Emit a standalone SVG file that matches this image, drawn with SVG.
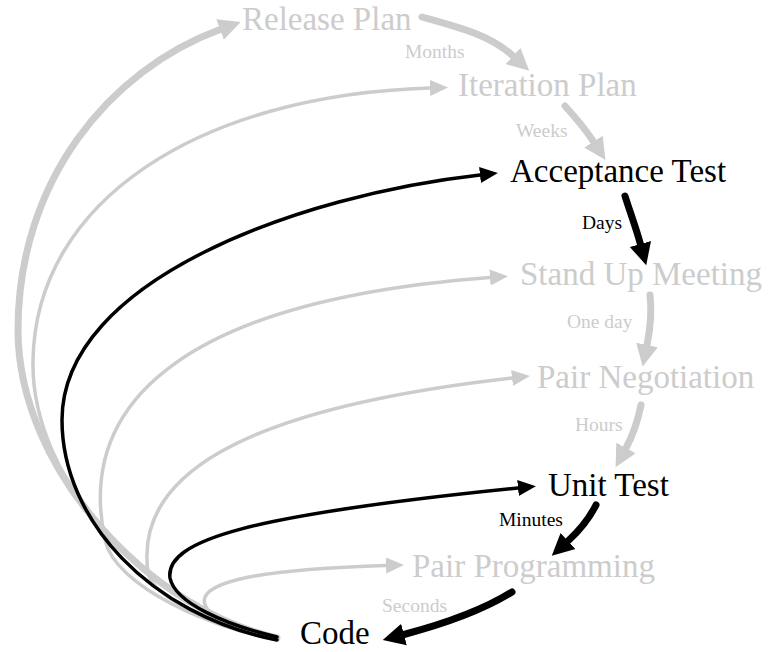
<svg xmlns="http://www.w3.org/2000/svg" width="769" height="652" viewBox="0 0 769 652">
  <style>
    .node { font-family: "Liberation Serif", "Times New Roman", serif; font-size: 33px; }
    .lbl { font-family: "Liberation Serif", "Times New Roman", serif; font-size: 19.5px; }
    .dim { fill: #cccccc; }
    .hot { fill: #000000; }
    .edge { fill: none; stroke-linecap: round; }
    .g { stroke: #cccccc; }
    .k { stroke: #000000; }
    .thin { stroke-width: 3.5; }
    .thick { stroke-width: 7; }
  </style>
  <defs>
    <marker id="headGreyL" viewBox="0 -12 24 24" markerWidth="24" markerHeight="24" refX="0" refY="0" orient="auto" markerUnits="userSpaceOnUse">
      <path d="M0,-11 L22,0 L0,11 Z" fill="#cccccc"/>
    </marker>
    <marker id="headBlackL" viewBox="0 -12 24 24" markerWidth="24" markerHeight="24" refX="0" refY="0" orient="auto" markerUnits="userSpaceOnUse">
      <path d="M0,-11 L22,0 L0,11 Z" fill="#000000"/>
    </marker>
    <marker id="headGreyS" viewBox="0 -10 20 20" markerWidth="20" markerHeight="20" refX="0" refY="0" orient="auto" markerUnits="userSpaceOnUse">
      <path d="M0,-8 L18,0 L0,8 Z" fill="#cccccc"/>
    </marker>
    <marker id="headBlackS" viewBox="0 -10 20 20" markerWidth="20" markerHeight="20" refX="0" refY="0" orient="auto" markerUnits="userSpaceOnUse">
      <path d="M0,-8 L18,0 L0,8 Z" fill="#000000"/>
    </marker>
  </defs>

  <g id="connectors">
    <!-- feedback loops from Code, dim ones first -->
    <path class="edge g thin" marker-end="url(#headGreyS)" d="M277,639 C150,610 30,480 33,360 C36,200 200,95 430,88"/>
    <path class="edge g thin" marker-end="url(#headGreyS)" d="M277,639 C215,630 115,587 105,540 C75,399 190,300 490,277.5"/>
    <path class="edge g thin" marker-end="url(#headGreyS)" d="M277,639 C225,628 152,600 148,572 C135,480 230,410 512,378"/>
    <path class="edge g thin" marker-end="url(#headGreyS)" d="M277,639 C245,632 212,622 205,605 C198,585 240,570 386,565.5"/>
    <path class="edge g thick" marker-end="url(#headGreyL)" d="M277,638 C150,610 18,470 18,330 C18,180 110,70 220,29.5"/>

    <!-- step-down chain -->
    <path class="edge g thick" marker-end="url(#headGreyL)" d="M422,17 C458,27 490,35 513,56"/>
    <path class="edge g thick" marker-end="url(#headGreyL)" d="M565,106 C575,117 586,130 593.5,141.6"/>
    <path class="edge g thick" marker-end="url(#headGreyL)" d="M650,295 C652,312 650,330 647,345"/>
    <path class="edge g thick" marker-end="url(#headGreyL)" d="M641,405 C638,420 633,435 626,448"/>

    <!-- highlighted loops -->
    <path class="edge k thin" marker-end="url(#headBlackS)" d="M277,640 C150,615 62,520 62,420 C62,280 300,195 480,175"/>
    <path class="edge k thin" marker-end="url(#headBlackS)" d="M277,637 C226,625 175,603 170,578 C165,540 250,515 518,488"/>
    <path class="edge k thick" marker-end="url(#headBlackL)" d="M625,196 C630,212 636,228 640.4,244"/>
    <path class="edge k thick" marker-end="url(#headBlackL)" d="M596,505 C590,517 580,530 568,541"/>
    <path class="edge k thick" marker-end="url(#headBlackL)" d="M512,592 C480,612 440,625 404,634.5"/>

    <!-- edge labels -->
    <text class="lbl dim" x="405" y="58">Months</text>
    <text class="lbl dim" x="516" y="137">Weeks</text>
    <text class="lbl hot" x="582" y="229">Days</text>
    <text class="lbl dim" x="567" y="328">One day</text>
    <text class="lbl dim" x="575" y="431">Hours</text>
    <text class="lbl hot" x="499" y="526">Minutes</text>
    <text class="lbl dim" x="382" y="612">Seconds</text>
  </g>

  <g id="release-plan"><text class="node dim" x="242" y="30">Release Plan</text></g>
  <g id="iteration-plan"><text class="node dim" x="458" y="96">Iteration Plan</text></g>
  <g id="acceptance-test"><text class="node hot" x="510" y="182">Acceptance Test</text></g>
  <g id="stand-up-meeting"><text class="node dim" x="520" y="285">Stand Up Meeting</text></g>
  <g id="pair-negotiation"><text class="node dim" x="537" y="388">Pair Negotiation</text></g>
  <g id="unit-test"><text class="node hot" x="548" y="496">Unit Test</text></g>
  <g id="pair-programming"><text class="node dim" x="412" y="577">Pair Programming</text></g>
  <g id="code"><text class="node hot" x="300" y="644">Code</text></g>
</svg>
